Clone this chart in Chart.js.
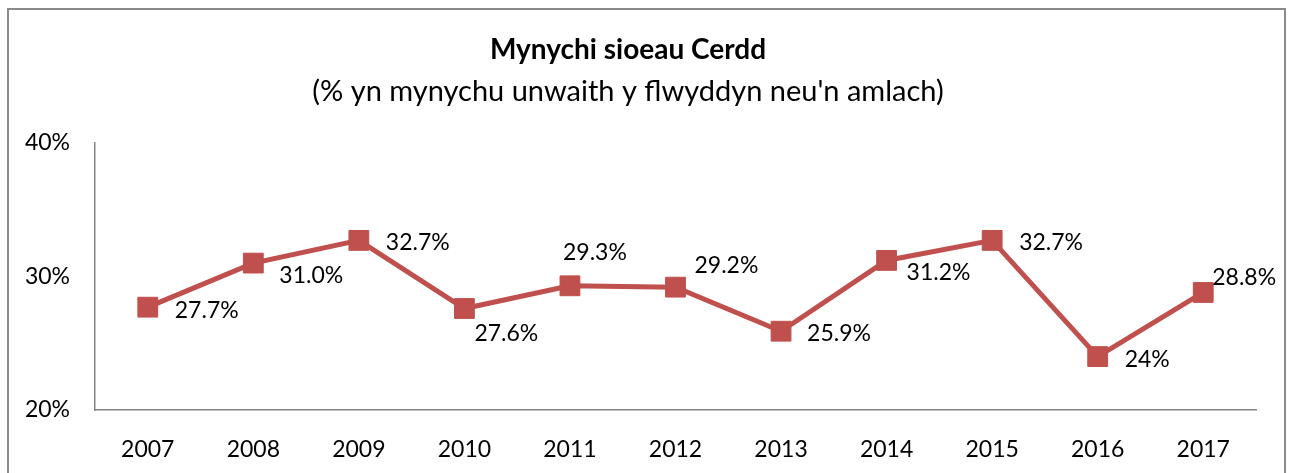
<!DOCTYPE html>
<html>
<head>
<meta charset="utf-8">
<script src="https://cdn.jsdelivr.net/npm/chart.js@4/dist/chart.umd.min.js"></script>
<style>
  html, body { margin: 0; padding: 0; background: #fff; overflow: hidden; }
  #wrap { width: 1290px; height: 473px; }
</style>
</head>
<body>
<div id="wrap"><canvas id="c" width="1290" height="473"></canvas></div>
<script>
const years = ["2007", "2008", "2009", "2010", "2011", "2012", "2013", "2014", "2015", "2016", "2017"];
const attendance = [27.7, 31.0, 32.7, 27.6, 29.3, 29.2, 25.9, 31.2, 32.7, 24, 28.8];
const valueLabels = ["27.7%", "31.0%", "32.7%", "27.6%", "29.3%", "29.2%", "25.9%", "31.2%", "32.7%", "24%", "28.8%"];
const yTicks = [20, 30, 40];

// where each value label sits relative to its marker (dx, dy)
const labelOffsets = [[27, 3], [26, 12], [27, 2], [10, 25], [-7, -33], [19, -22], [26, 2], [20, 12], [27, 2], [27, 3], [9, -15]];

const RED = "#C0504D";
const GREY = "#868686";
const FONT = "Lato, 'Open Sans', sans-serif";

const frame = {
  id: "frame",
  beforeDraw(chart) {
    const ctx = chart.ctx;
    ctx.save();
    ctx.strokeStyle = "#8a8a8a";
    ctx.lineWidth = 2;
    ctx.strokeRect(8, 9, 1277, 480);
    ctx.restore();
  },
};

const pointLabels = {
  id: "pointLabels",
  afterDatasetsDraw(chart) {
    const ctx = chart.ctx;
    const meta = chart.getDatasetMeta(0);
    ctx.save();
    ctx.font = "23px " + FONT;
    ctx.fillStyle = "#000";
    ctx.textAlign = "left";
    ctx.textBaseline = "middle";
    meta.data.forEach((pt, i) => {
      const [dx, dy] = labelOffsets[i];
      ctx.fillText(valueLabels[i], pt.x + dx, pt.y + dy);
    });
    ctx.restore();
  },
};

new Chart(document.getElementById("c"), {
  type: "line",
  data: {
    labels: years,
    datasets: [{
      data: attendance,
      borderColor: RED,
      backgroundColor: RED,
      borderWidth: 5,
      pointStyle: "rect",
      pointRadius: 14,
      pointHoverRadius: 14,
      pointBorderWidth: 1,
      pointBorderColor: RED,
      pointBackgroundColor: RED,
      tension: 0,
    }],
  },
  options: {
    responsive: false,
    animation: false,
    layout: { padding: { left: 0, right: 34, top: 0, bottom: 0 } },
    plugins: {
      legend: { display: false },
      tooltip: { enabled: false },
      title: {
        display: true,
        text: "Mynychi sioeau Cerdd",
        color: "#000",
        font: { family: FONT, size: 28, weight: "bold", lineHeight: 1.2 },
        padding: { top: 33, bottom: 8 },
      },
      subtitle: {
        display: true,
        text: "(% yn mynychu unwaith y flwyddyn neu'n amlach)",
        color: "#000",
        font: { family: FONT, size: 29, lineHeight: 1.2 },
        padding: { top: 0, bottom: 33.5 },
      },
    },
    scales: {
      x: {
        offset: true,
        grid: { display: false },
        border: { display: true, color: GREY, width: 1.5 },
        ticks: { color: "#000", font: { family: FONT, size: 23 }, padding: 18, maxRotation: 0 },
        afterFit(scale) { scale.height = 63; },
      },
      y: {
        min: 20,
        max: 40,
        afterBuildTicks(scale) { scale.ticks = yTicks.map((v) => ({ value: v })); },
        grid: { display: false },
        border: { display: true, color: GREY, width: 1.5 },
        ticks: { color: "#000", font: { family: FONT, size: 23 }, padding: 17, callback: (v) => v + "%" },
        afterFit(scale) { scale.width = 95; },
      },
    },
  },
  plugins: [frame, pointLabels],
});
</script>
</body>
</html>
